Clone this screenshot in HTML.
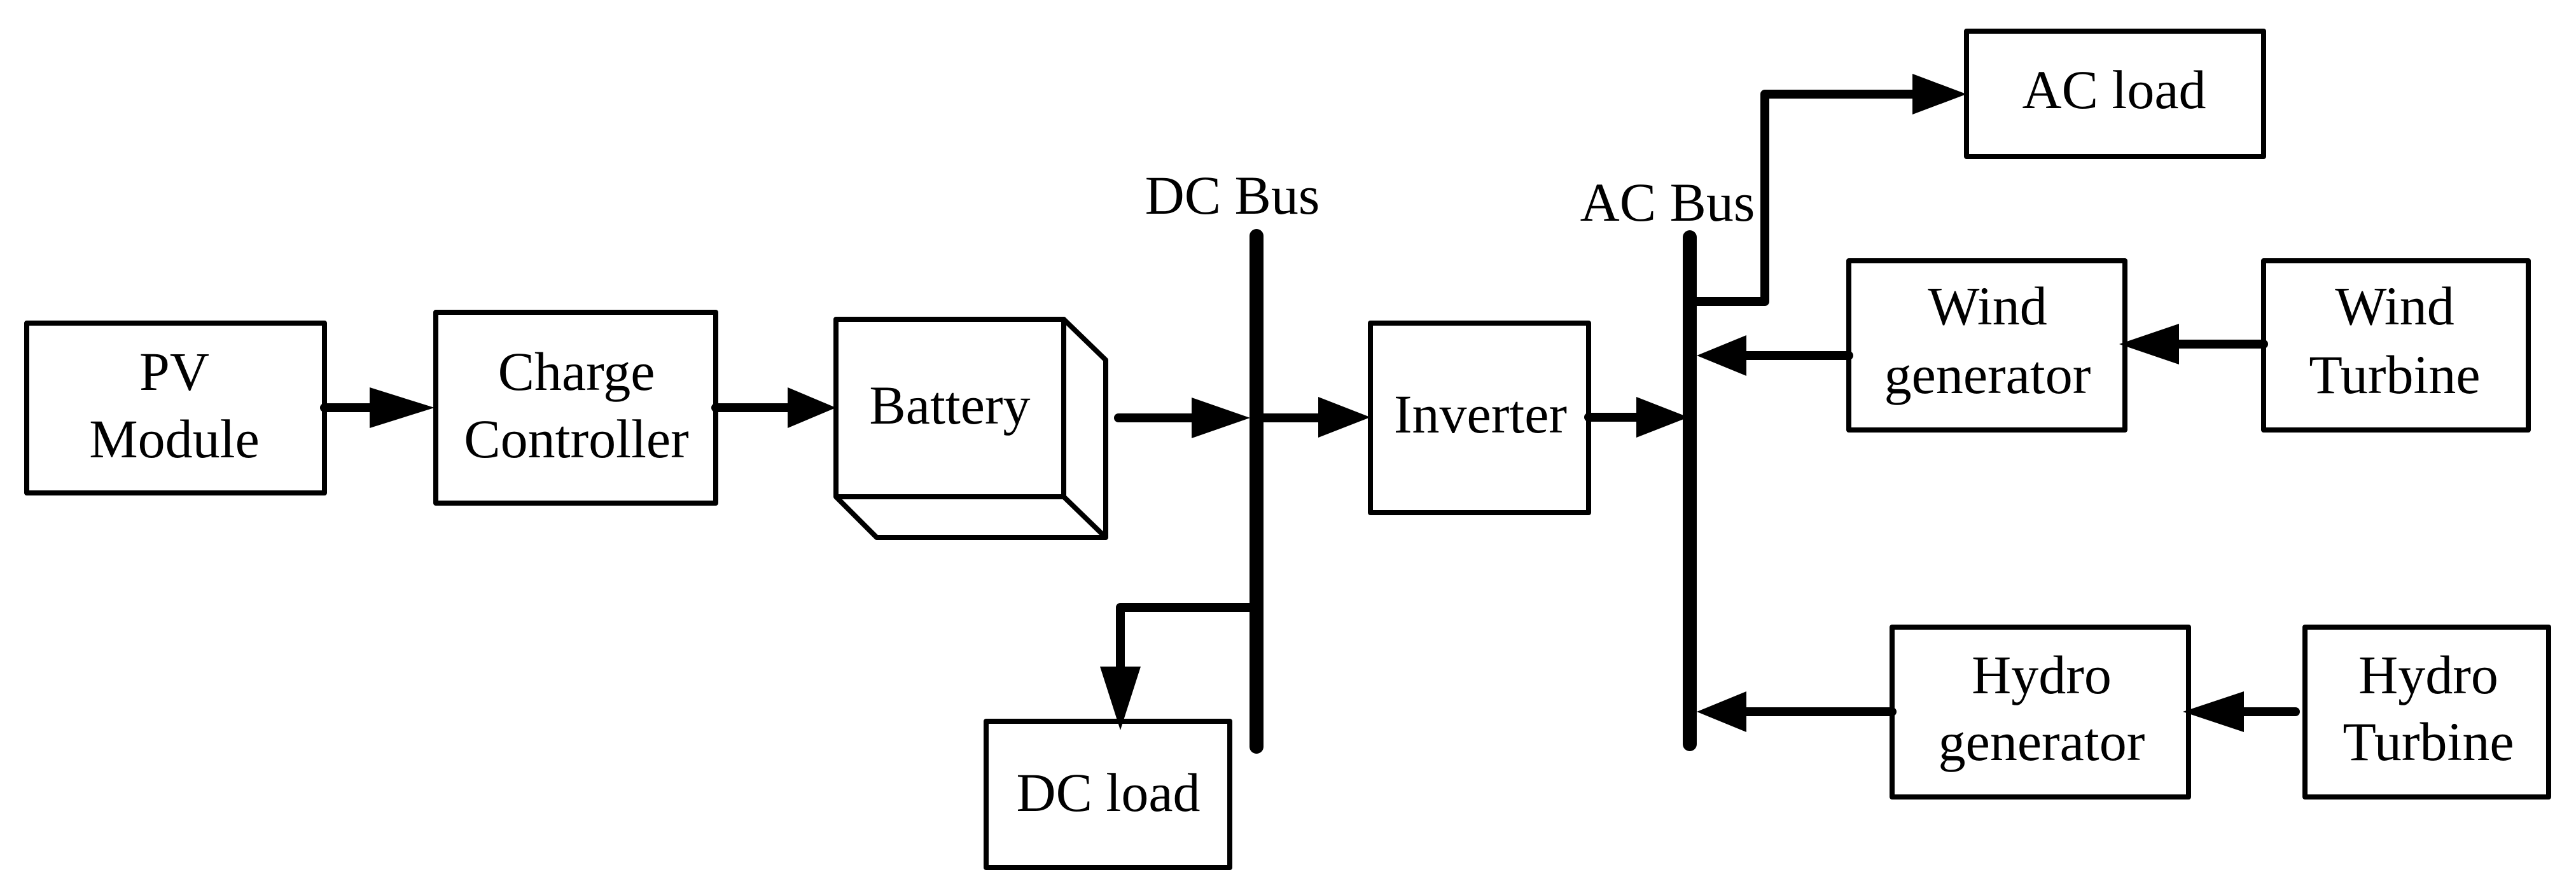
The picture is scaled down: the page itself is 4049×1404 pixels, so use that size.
<!DOCTYPE html>
<html><head><style>html,body{margin:0;padding:0;background:#fff}svg{display:block}</style></head><body>
<svg width="4049" height="1404" viewBox="0 0 4049 1404" xmlns="http://www.w3.org/2000/svg" font-family="'Liberation Serif', serif" font-size="86" text-anchor="middle">
<g fill="none" stroke="#000" stroke-width="8" stroke-linejoin="round">
<rect x="42" y="508" width="468" height="267"/>
<rect x="685" y="491" width="440" height="300"/>
<rect x="1314" y="502" width="358" height="279"/>
<polyline points="1314,502 1672,502 1738,566 1738,845 1378,845 1314,781"/>
<line x1="1672" y1="781" x2="1738" y2="845"/>
<line x1="1672" y1="502" x2="1672" y2="781"/>
<rect x="1550" y="1134" width="383" height="230"/>
<rect x="2154" y="508" width="343" height="298"/>
<rect x="3091" y="49" width="467" height="197"/>
<rect x="2906" y="410" width="434" height="266"/>
<rect x="3558" y="410" width="416" height="266"/>
<rect x="2974" y="986" width="466" height="267"/>
<rect x="3623" y="986" width="383" height="267"/>
</g>
<g stroke="#000" stroke-width="14" fill="none" stroke-linecap="round" stroke-linejoin="round">
<line x1="510" y1="641" x2="600" y2="641"/>
<line x1="1125" y1="641" x2="1250" y2="641"/>
<line x1="1758" y1="657" x2="1890" y2="657"/>
<line x1="1975" y1="657" x2="2080" y2="657"/>
<line x1="2497" y1="656" x2="2590" y2="656"/>
<polyline points="1975,955 1761,955 1761,1060"/>
<polyline points="2656,474 2774,474 2774,148 3020,148"/>
<line x1="2906" y1="559" x2="2730" y2="559"/>
<line x1="3558" y1="541" x2="3410" y2="541"/>
<line x1="2974" y1="1119" x2="2730" y2="1119"/>
<line x1="3608" y1="1119" x2="3510" y2="1119"/>
</g>
<g stroke="#000" stroke-width="22" stroke-linecap="round">
<line x1="1975" y1="371" x2="1975" y2="1174"/>
<line x1="2656" y1="373" x2="2656" y2="1170"/>
</g>
<g fill="#000">
<polygon points="581,609 683,641 581,673"/>
<polygon points="1238,609 1314,641 1238,673"/>
<polygon points="1873,625 1965,657 1873,689"/>
<polygon points="2072,624 2154,656 2072,688"/>
<polygon points="2572,624 2654,656 2572,688"/>
<polygon points="1729,1048 1761,1148 1793,1048"/>
<polygon points="3006,116 3091,148 3006,180"/>
<polygon points="2745,527 2667,559 2745,591"/>
<polygon points="3425,509 3331,541 3425,573"/>
<polygon points="2745,1087 2667,1119 2745,1151"/>
<polygon points="3527,1087 3431,1119 3527,1151"/>
</g>
<g fill="#000">
<text x="274" y="613">PV</text>
<text x="274" y="719">Module</text>
<text x="906" y="613">Charge</text>
<text x="906" y="719">Controller</text>
<text x="1493" y="666">Battery</text>
<text x="1742" y="1275">DC load</text>
<text x="1937" y="336">DC Bus</text>
<text x="2327" y="680">Inverter</text>
<text x="2621" y="347">AC Bus</text>
<text x="3323" y="170">AC load</text>
<text x="3124" y="510">Wind</text>
<text x="3124" y="618">generator</text>
<text x="3764" y="510">Wind</text>
<text x="3764" y="618">Turbine</text>
<text x="3209" y="1090">Hydro</text>
<text x="3209" y="1195">generator</text>
<text x="3817" y="1090">Hydro</text>
<text x="3817" y="1195">Turbine</text>
</g>
</svg>
</body></html>
